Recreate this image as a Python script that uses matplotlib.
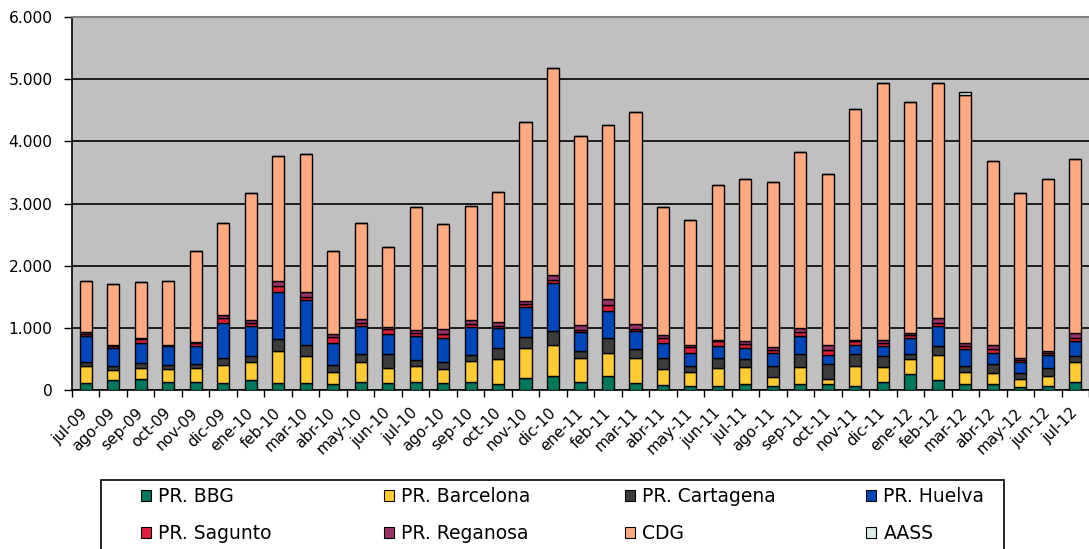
import matplotlib
matplotlib.use("Agg")
import matplotlib.pyplot as plt
import numpy as np
from matplotlib.patches import Patch, Rectangle
from matplotlib.ticker import FuncFormatter, FixedLocator

plt.rcParams['font.family'] = ['DejaVu Sans']

months = ["jul-09", "ago-09", "sep-09", "oct-09", "nov-09", "dic-09", "ene-10", "feb-10",
          "mar-10", "abr-10", "may-10", "jun-10", "jul-10", "ago-10", "sep-10", "oct-10",
          "nov-10", "dic-10", "ene-11", "feb-11", "mar-11", "abr-11", "may-11", "jun-11",
          "jul-11", "ago-11", "sep-11", "oct-11", "nov-11", "dic-11", "ene-12", "feb-12",
          "mar-12", "abr-12", "may-12", "jun-12", "jul-12"]

pr_bbg = [117, 160, 176, 133, 133, 107, 155, 107, 107, 91, 133, 107, 133, 107, 133, 91,
          197, 224, 123, 224, 107, 80, 69, 69, 91, 69, 91, 91, 64, 133, 251, 160,
          96, 96, 53, 69, 133]
pr_barcelona = [267, 155, 181, 198, 224, 293, 288, 517, 437, 202, 310, 250, 251, 229, 336, 400,
                480, 496, 394, 379, 410, 256, 224, 288, 272, 134, 272, 85, 320, 230, 240, 400,
                197, 171, 123, 155, 320]
pr_cartagena = [69, 74, 75, 69, 54, 117, 101, 192, 176, 112, 144, 230, 96, 117, 91, 186,
                176, 229, 112, 234, 139, 181, 91, 160, 133, 181, 224, 235, 203, 181, 96, 144,
                91, 144, 91, 123, 91]
pr_huelva = [411, 294, 331, 304, 293, 566, 491, 768, 731, 358, 437, 320, 384, 384, 453, 320,
             480, 774, 304, 427, 288, 246, 219, 187, 181, 213, 277, 149, 144, 160, 250, 320,
             272, 192, 176, 213, 245]
pr_sagunto = [35, 25, 53, 15, 53, 74, 42, 96, 53, 90, 59, 69, 59, 70, 43, 27,
              43, 48, 38, 107, 32, 80, 90, 80, 70, 54, 69, 91, 58, 53, 43, 53,
              48, 53, 37, 43, 54]
pr_reganosa = [34, 22, 27, 11, 11, 54, 43, 69, 69, 54, 58, 37, 37, 69, 75, 64,
               53, 85, 69, 96, 91, 48, 38, 16, 42, 42, 64, 69, 22, 43, 37, 86,
               53, 75, 37, 21, 74]
cdg = [821, 980, 897, 1030, 1472, 1474, 2045, 2016, 2219, 1333, 1551, 1280, 1979, 1690, 1829, 2093,
       2883, 3325, 3047, 2797, 3406, 2048, 2004, 2493, 2611, 2659, 2838, 2755, 3716, 4135, 3717, 3772,
       3984, 2948, 2658, 2766, 2805]
aass = [0, 0, 0, 0, 0, 0, 0, 0, 0, 0, 0, 0, 0, 0, 0, 0,
        0, 0, 0, 0, 0, 0, 0, 0, 0, 0, 0, 0, 0, 0, 0, 0,
        60, 0, 0, 0, 0]

series_names = ["PR. BBG", "PR. Barcelona", "PR. Cartagena", "PR. Huelva",
                "PR. Sagunto", "PR. Reganosa", "CDG", "AASS"]
series_values = [pr_bbg, pr_barcelona, pr_cartagena, pr_huelva,
                 pr_sagunto, pr_reganosa, cdg, aass]
colors = ["#00785A", "#FFCC33", "#3C3C3C", "#0048BA", "#DC1E3C", "#993366", "#FFAA80", "#DDEEE8"]

fig = plt.figure(figsize=(10.89, 5.49), dpi=100)
ax = fig.add_axes([72 / 1089, 1 - 390 / 549, 1 - 72 / 1089, (390 - 17) / 549])
ax.set_facecolor("#C0C0C0")

x = np.arange(len(months))
bottom = np.zeros(len(months))
for name, vals, col in zip(series_names, series_values, colors):
    v = np.array(vals, dtype=float)
    ax.bar(x, v, width=0.44, bottom=bottom, color=col, edgecolor="black",
           linewidth=1.0, label=name, zorder=3)
    bottom += v

ax.set_xlim(-0.5, len(months) - 0.5)
ax.set_ylim(0, 6000)
ax.set_yticks(np.arange(0, 6001, 1000))
ax.yaxis.set_major_formatter(FuncFormatter(lambda v, p: f"{int(v):,}".replace(",", ".")))
ax.yaxis.grid(True, color="black", linewidth=1.2, zorder=1)
ax.set_axisbelow(True)

ax.set_xticks(x)
ax.set_xticklabels(months, rotation=45, ha="right", va="center", rotation_mode="anchor")
ax.xaxis.set_minor_locator(FixedLocator(np.arange(-0.5, len(months), 1.0)))
ax.tick_params(axis="x", which="major", length=0, labelsize=11, pad=15)
ax.tick_params(axis="x", which="minor", length=5, width=1, color="black")
ax.tick_params(axis="y", length=6, width=1, labelsize=11.2, color="black", pad=8)

ax.spines["top"].set_color("#808080")
ax.spines["top"].set_linewidth(1.5)
ax.spines["right"].set_visible(False)
ax.spines["left"].set_color("black")
ax.spines["left"].set_linewidth(1.2)
ax.spines["bottom"].set_color("black")
ax.spines["bottom"].set_linewidth(1.2)

# legend frame
fig.add_artist(Rectangle((101 / 1089, -0.05), 903 / 1089, 0.05 + (549 - 480) / 549,
                         transform=fig.transFigure, facecolor="white",
                         edgecolor="black", linewidth=1.2, clip_on=False))

handles = [Patch(facecolor=c, edgecolor="black", linewidth=0.8) for c in colors]
col_x = [141, 384, 625, 866]
for i in range(4):
    hs = [handles[i], handles[i + 4]]
    ls = [series_names[i], series_names[i + 4]]
    fig.legend(hs, ls, loc="upper left",
               bbox_to_anchor=(col_x[i] / 1089, 1 - 487 / 549),
               frameon=False, fontsize=13.5, handlelength=0.53, handleheight=0.53,
               handletextpad=0.4, labelspacing=0.95, borderpad=0, borderaxespad=0)

fig.savefig("out.png", dpi=100)
